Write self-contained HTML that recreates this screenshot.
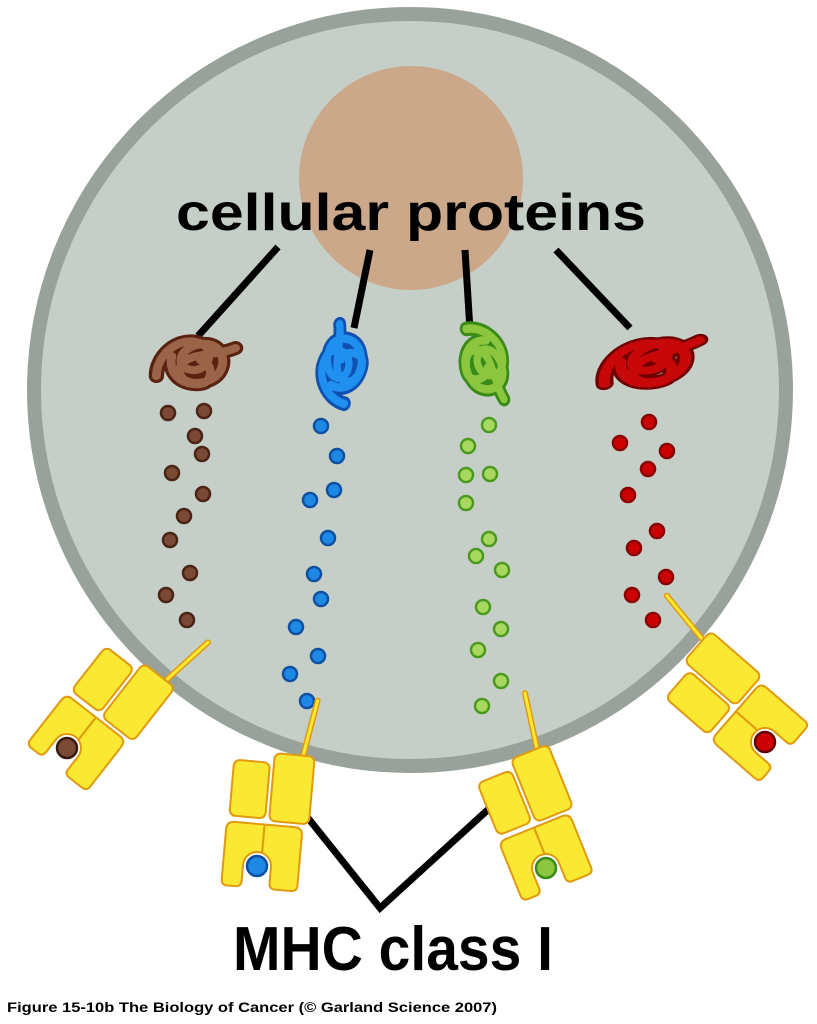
<!DOCTYPE html>
<html><head><meta charset="utf-8"><style>html,body{margin:0;padding:0;background:#fff}svg{display:block}</style></head><body>
<svg width="817" height="1024" viewBox="0 0 817 1024" xmlns="http://www.w3.org/2000/svg">
<defs>
<g id="knot">
<path d="M-36,14 C-36,-6 -18,-24 0,-20 C20,-16 12,10 -4,8 C-20,6 -16,-16 6,-18 C26,-20 30,6 16,16 C2,26 -20,20 -14,4 C-8,-10 20,-6 36,-14 M-22,-6 C-26,14 -10,24 4,22 C18,20 14,-2 4,-2" fill="none" stroke-linecap="round" stroke-linejoin="round"/>
</g>
<g id="mhc" stroke="#e09a10" stroke-width="2" fill="#fbe832" stroke-linejoin="round">
<line x1="36" y1="-112" x2="46" y2="-170" stroke="#e09a10" stroke-width="6" stroke-linecap="round"/>
<line x1="36" y1="-112" x2="46" y2="-170" stroke="#fbe832" stroke-width="3" stroke-linecap="round"/>
<rect x="-32" y="-104" width="36" height="56" rx="6"/>
<rect x="8" y="-114" width="40" height="68" rx="6"/>
<path d="M-26,-42 L4,-42 L4,-13.4 A14,14 0 0 0 -14,0 L-14,16 Q-14,22 -20,22 L-28,22 Q-34,22 -34,16 L-34,-34 Q-34,-42 -26,-42 Z"/>
<path d="M4,-42 L34,-42 Q42,-42 42,-34 L42,16 Q42,22 36,22 L20,22 Q14,22 14,16 L14,0 A14,14 0 0 0 4,-13.4 Z"/>
</g>
</defs>
<circle cx="410" cy="390" r="376" fill="#c5cfc8" stroke="#98a29a" stroke-width="14"/>
<circle cx="411" cy="178" r="112" fill="#cba88a"/>
<g stroke="#000" stroke-width="7">
<line x1="278" y1="247" x2="198" y2="336"/>
<line x1="370" y1="250" x2="354" y2="328"/>
<line x1="465" y1="250" x2="470" y2="330"/>
<line x1="556" y1="250" x2="630" y2="328"/>
</g>
<text x="411" y="230" text-anchor="middle" font-family="Liberation Sans, sans-serif" font-weight="bold" font-size="52" textLength="470" lengthAdjust="spacingAndGlyphs">cellular proteins</text>
<g transform="translate(196,362) scale(1.1,1)"><use href="#knot" stroke="#5a2210" stroke-width="14"/><use href="#knot" stroke="#9a6448" stroke-width="8"/></g>
<g transform="translate(342,364) rotate(-75) scale(1.05,0.9)"><use href="#knot" stroke="#1050b0" stroke-width="14"/><use href="#knot" stroke="#2090f0" stroke-width="8"/></g>
<g transform="translate(485,364) rotate(80) scale(1.05,0.9)"><use href="#knot" stroke="#3a8a18" stroke-width="14"/><use href="#knot" stroke="#8cc63f" stroke-width="8"/></g>
<g transform="translate(652,362) rotate(-10) scale(1.4,0.95)"><use href="#knot" stroke="#700000" stroke-width="13"/><use href="#knot" stroke="#c80808" stroke-width="8"/></g>
<g fill="#7a4a35" stroke="#4a2414" stroke-width="2.5">
<circle cx="168" cy="413" r="7"/><circle cx="204" cy="411" r="7"/><circle cx="195" cy="436" r="7"/><circle cx="202" cy="454" r="7"/><circle cx="172" cy="473" r="7"/><circle cx="203" cy="494" r="7"/><circle cx="184" cy="516" r="7"/><circle cx="170" cy="540" r="7"/><circle cx="190" cy="573" r="7"/><circle cx="166" cy="595" r="7"/><circle cx="187" cy="620" r="7"/>
</g>
<g fill="#1e88e5" stroke="#1050a0" stroke-width="2.5">
<circle cx="321" cy="426" r="7"/><circle cx="337" cy="456" r="7"/><circle cx="334" cy="490" r="7"/><circle cx="310" cy="500" r="7"/><circle cx="328" cy="538" r="7"/><circle cx="314" cy="574" r="7"/><circle cx="321" cy="599" r="7"/><circle cx="296" cy="627" r="7"/><circle cx="318" cy="656" r="7"/><circle cx="290" cy="674" r="7"/><circle cx="307" cy="701" r="7"/>
</g>
<g fill="#a8d860" stroke="#4a9a20" stroke-width="2.5">
<circle cx="489" cy="425" r="7"/><circle cx="468" cy="446" r="7"/><circle cx="466" cy="475" r="7"/><circle cx="490" cy="474" r="7"/><circle cx="466" cy="503" r="7"/><circle cx="489" cy="539" r="7"/><circle cx="476" cy="556" r="7"/><circle cx="502" cy="570" r="7"/><circle cx="483" cy="607" r="7"/><circle cx="501" cy="629" r="7"/><circle cx="478" cy="650" r="7"/><circle cx="501" cy="681" r="7"/><circle cx="482" cy="706" r="7"/>
</g>
<g fill="#c00" stroke="#800" stroke-width="2.5">
<circle cx="649" cy="422" r="7"/><circle cx="620" cy="443" r="7"/><circle cx="667" cy="451" r="7"/><circle cx="648" cy="469" r="7"/><circle cx="628" cy="495" r="7"/><circle cx="657" cy="531" r="7"/><circle cx="634" cy="548" r="7"/><circle cx="666" cy="577" r="7"/><circle cx="632" cy="595" r="7"/><circle cx="653" cy="620" r="7"/>
</g>
<polyline points="308,818 380,908 492,806" fill="none" stroke="#000" stroke-width="7"/>
<g transform="translate(67,748) rotate(38)"><use href="#mhc"/></g>
<circle cx="67" cy="748" r="10" fill="#7a4a35" stroke="#3a1a0a" stroke-width="2.5"/>
<g transform="translate(257,866) rotate(5)"><use href="#mhc"/></g>
<circle cx="257" cy="866" r="10" fill="#1e88e5" stroke="#1050a0" stroke-width="2.5"/>
<g transform="translate(546,868) rotate(-22)"><use href="#mhc"/></g>
<circle cx="546" cy="868" r="10" fill="#8cc63f" stroke="#3a8a18" stroke-width="2.5"/>
<g transform="translate(765,742) rotate(-49)"><use href="#mhc"/></g>
<circle cx="765" cy="742" r="10" fill="#c00" stroke="#600" stroke-width="2.5"/>
<text x="393" y="970" text-anchor="middle" font-family="Liberation Sans, sans-serif" font-weight="bold" font-size="62" textLength="320" lengthAdjust="spacingAndGlyphs">MHC class I</text>
<text x="7" y="1012" font-family="Liberation Sans, sans-serif" font-weight="bold" font-size="14" textLength="490" lengthAdjust="spacingAndGlyphs">Figure 15-10b  The Biology of Cancer (© Garland Science 2007)</text>
</svg>
</body></html>
